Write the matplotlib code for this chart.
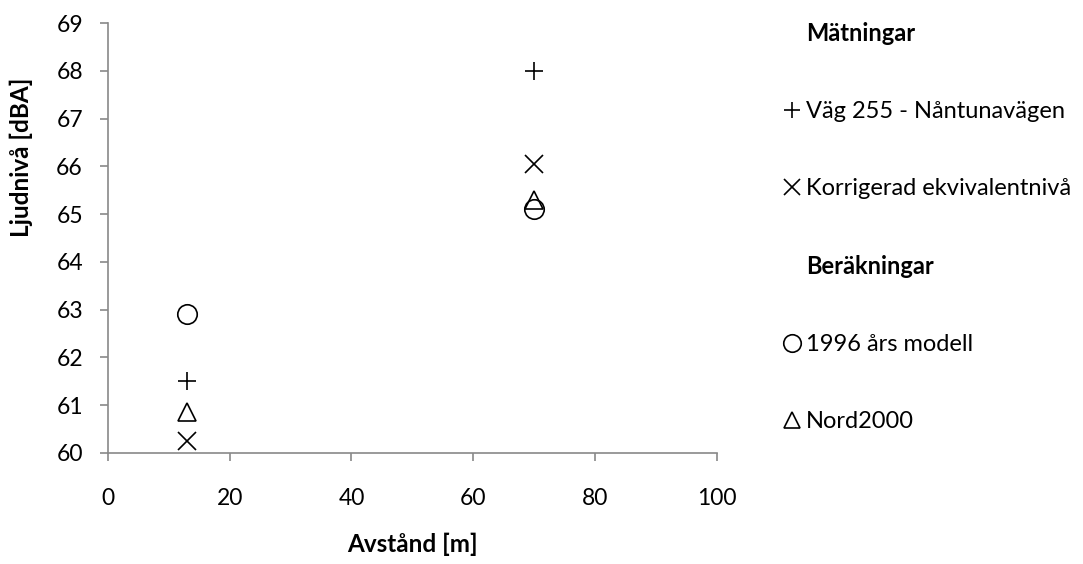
import matplotlib.pyplot as plt
from matplotlib.lines import Line2D

plt.rcParams['font.family'] = ['Lato', 'DejaVu Sans']

# Mätningar och beräkningar vid två avstånd
avstand = [13, 70]
vag255 = [61.5, 68.0]
korrigerad = [60.25, 66.05]
modell1996 = [62.9, 65.1]
nord2000 = [60.85, 65.3]

fig = plt.figure(figsize=(10.83, 5.64), dpi=100)
ax = fig.add_axes([0.0997, 0.197, 0.562, 0.762])

ms = 13
mew = 1.2
stil_plus = dict(ls='none', marker='+', ms=ms, mew=mew, color='black')
stil_x = dict(ls='none', marker='x', ms=ms, mew=mew, color='black')
stil_o = dict(ls='none', marker='o', ms=ms + 1, mew=mew, mfc='none', mec='black')
stil_tri = dict(ls='none', marker='^', ms=ms, mew=mew, mfc='none', mec='black')

ax.plot(avstand, vag255, **stil_plus)
ax.plot(avstand, korrigerad, **stil_x)
ax.plot(avstand, modell1996, **stil_o)
ax.plot(avstand, nord2000, **stil_tri)

ax.set_xlim(0, 100)
ax.set_ylim(60, 69)
ax.set_xticks(range(0, 101, 20))
ax.set_yticks(range(60, 70))
for s in ['top', 'right']:
    ax.spines[s].set_visible(False)
for s in ['left', 'bottom']:
    ax.spines[s].set_color('#898989')
    ax.spines[s].set_linewidth(1.2)
ax.tick_params(color='#898989', width=1.2, length=6, labelsize=16.5)
ax.tick_params(axis='x', pad=19)
ax.tick_params(axis='y', pad=12)
ax.set_xlabel('Avstånd [m]', fontsize=17.5, fontweight='bold')
ax.set_ylabel('Ljudnivå [dBA]', fontsize=17.5, fontweight='bold')
ax.xaxis.set_label_coords(0.5, -0.185)
ax.yaxis.set_label_coords(-0.123, 0.688)

tom = Line2D([], [], ls='none')
handles = [tom, Line2D([], [], **stil_plus), Line2D([], [], **stil_x),
           tom, Line2D([], [], **stil_o), Line2D([], [], **stil_tri)]
labels = ['Mätningar', 'Väg 255 - Nåntunavägen', 'Korrigerad ekvivalentnivå',
          'Beräkningar', '1996 års modell', 'Nord2000']
leg = fig.legend(handles, labels, loc='upper left', bbox_to_anchor=(0.714, 0.977),
                 frameon=False, fontsize=17, handlelength=0.75, handletextpad=0.25,
                 labelspacing=2.37, borderaxespad=0, markerscale=0.9)
for i in (0, 3):
    leg.get_texts()[i].set_fontweight('bold')

fig.savefig('out.png', dpi=100)
